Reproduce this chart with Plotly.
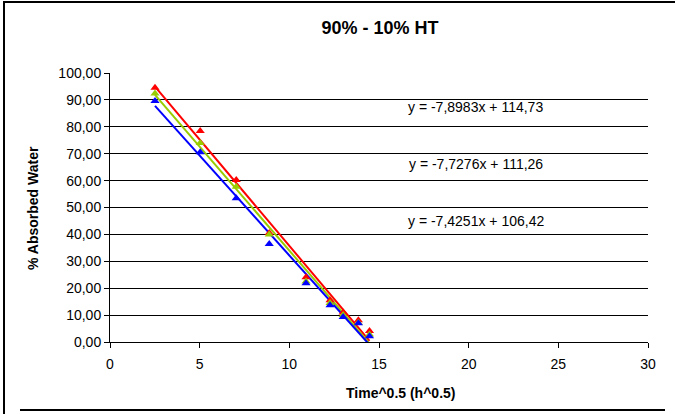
import plotly.graph_objects as go

# ---- data ----
x_vals = [2.51, 5.03, 7.04, 8.88, 10.93, 12.27, 13.0, 13.85, 14.47]
red_vals = [94.5, 78.4, 60.2, 40.5, 24.1, 15.5, 11.0, 8.1, 4.1]
green_vals = [92.4, 74.0, 57.7, 40.0, 22.5, 14.5, 10.0, 7.2, 2.8]
blue_vals = [89.6, 70.5, 53.4, 36.4, 21.8, 13.7, 9.3, 7.0, 2.1]

slopes = [-7.8983, -7.7276, -7.4251]
intercepts = [114.73, 111.26, 106.42]
eq_labels = ["y = -7,8983x + 114,73", "y = -7,7276x + 111,26", "y = -7,4251x + 106,42"]
eq_pos_y = [87.3, 66.1, 45.0]

y_ticks = [0, 10, 20, 30, 40, 50, 60, 70, 80, 90, 100]
y_tick_text = ["0,00", "10,00", "20,00", "30,00", "40,00", "50,00", "60,00", "70,00", "80,00", "90,00", "100,00"]
x_ticks = [0, 5, 10, 15, 20, 25, 30]

colors = ["#FF0000", "#99CC00", "#0000FF"]
series = [red_vals, green_vals, blue_vals]

W, H = 675, 414
ML, MR, MT, MB = 110, 27, 73, 72
FONT = "Liberation Sans, Arial, sans-serif"

fig = go.Figure()
xmin, xmax = min(x_vals), max(x_vals)
for vals, m, b, c in zip(series, slopes, intercepts, colors):
    fig.add_trace(go.Scatter(x=[xmin, xmax], y=[m * xmin + b, m * xmax + b], mode="lines",
                             line=dict(color=c, width=2), showlegend=False, hoverinfo="skip"))
for vals, c in zip(series, colors):
    fig.add_trace(go.Scatter(x=x_vals, y=vals, mode="markers",
                             marker=dict(symbol="triangle-up", size=8, color=c), showlegend=False))

for lbl, yy in zip(eq_labels, eq_pos_y):
    fig.add_annotation(x=20.4, y=yy, text=lbl, showarrow=False, xref="x", yref="y",
                       font=dict(family=FONT, size=14, color="black"))

pw = W - ML - MR
ph = H - MT - MB
def px(x):
    return (x - ML) / pw
def py(y):
    return (H - MB - y) / ph

fig.add_annotation(x=px(400), y=py(393), xref="paper", yref="paper", showarrow=False,
                   xanchor="center", yanchor="middle",
                   text="<b>Time^0.5 (h^0.5)</b>", font=dict(family=FONT, size=14, color="black"))
fig.add_annotation(x=px(33), y=py(208), xref="paper", yref="paper", showarrow=False, textangle=-90,
                   xanchor="center", yanchor="middle",
                   text="<b>% Absorbed Water</b>", font=dict(family=FONT, size=14, color="black"))

shapes = [
    dict(type="line", xref="paper", yref="paper", x0=px(4), x1=px(4), y0=py(1), y1=py(414), line=dict(color="black", width=2)),
    dict(type="line", xref="paper", yref="paper", x0=px(4), x1=px(675), y0=py(2), y1=py(2), line=dict(color="black", width=2)),
    dict(type="line", xref="paper", yref="paper", x0=px(20), x1=px(665), y0=py(410), y1=py(410), line=dict(color="black", width=2)),
]

fig.update_layout(
    width=W, height=H,
    margin=dict(l=ML, r=MR, t=MT, b=MB),
    paper_bgcolor="white", plot_bgcolor="white",
    font=dict(family=FONT, size=14, color="black"),
    title=dict(text="<b>90% - 10% HT</b>", x=380 / W, xanchor="center", y=1 - 28 / H, yanchor="middle",
               font=dict(family=FONT, size=18, color="black")),
    shapes=shapes,
    xaxis=dict(range=[0, 30], tickvals=x_ticks, ticks="outside", ticklen=5, tickcolor="black",
               showgrid=False, zeroline=False, showline=True, linecolor="black", linewidth=1,
               tickfont=dict(family=FONT, size=14), ticklabelstandoff=4),
    yaxis=dict(range=[0, 100], tickvals=y_ticks, ticktext=y_tick_text, ticks="outside", ticklen=5,
               tickcolor="black", showgrid=True, gridcolor="black", gridwidth=1, zeroline=False,
               showline=True, linecolor="black", linewidth=1, tickfont=dict(family=FONT, size=14)),
)

fig.write_html("out.html", config={"displayModeBar": False},
               post_script="document.body.style.margin='0';document.body.style.overflow='hidden';")
